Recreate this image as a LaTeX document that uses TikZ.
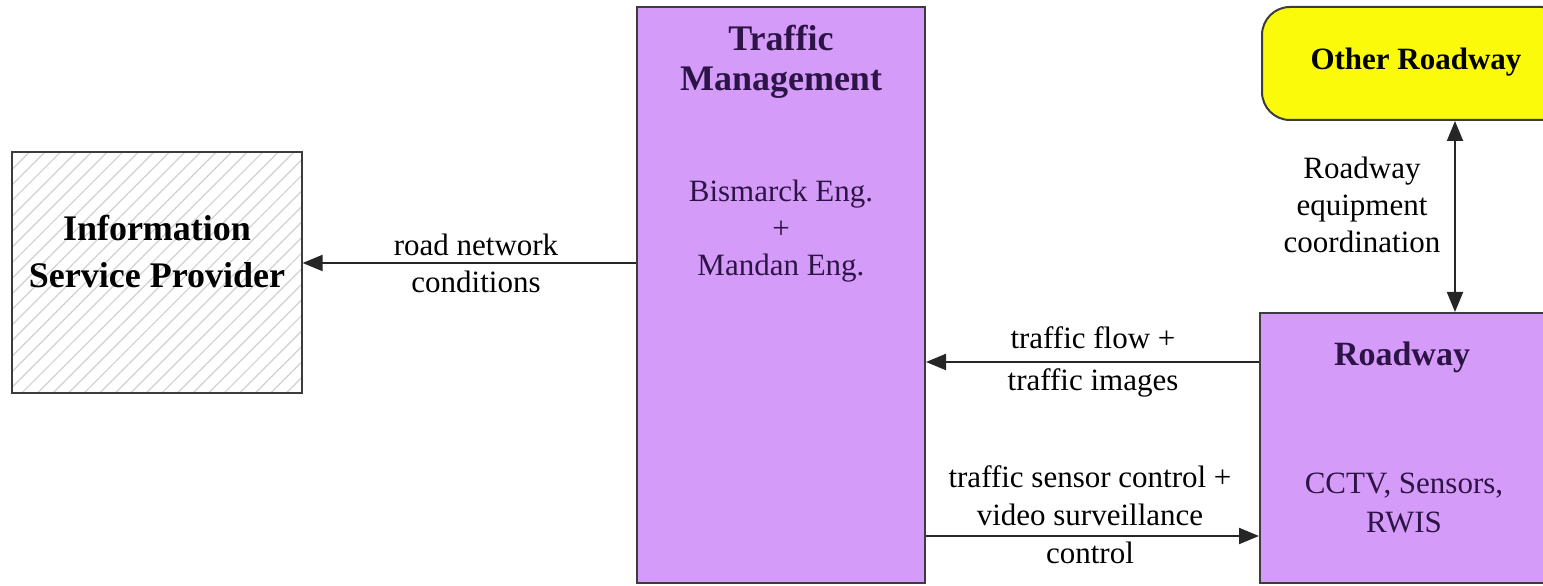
\documentclass[tikz,border=0pt]{standalone}
\usepackage{fontspec}
\setmainfont{Liberation Serif}
\usetikzlibrary{arrows.meta,patterns.meta}

\definecolor{mgmtpurple}{RGB}{213,155,248}
\definecolor{otheryellow}{RGB}{250,250,10}
\definecolor{boxline}{RGB}{60,60,60}
\definecolor{purpletext}{RGB}{45,20,70}

\tikzset{
  box/.style={draw=boxline, line width=2pt, inner sep=0pt},
  title/.style={font=\fontsize{36}{42}\selectfont\bfseries, align=center, inner sep=0pt},
  body/.style={font=\fontsize{31}{37}\selectfont, align=center, inner sep=0pt},
  arr/.style={line width=2pt, draw=black!85, -{Triangle[length=20pt,width=16pt]}},
  darr/.style={line width=2pt, draw=black!85, {Triangle[length=20pt,width=16pt]}-{Triangle[length=20pt,width=16pt]}}
}

\begin{document}
\begin{tikzpicture}[x=1pt,y=1pt]
  \useasboundingbox (0,0) rectangle (1543,586);
  \begin{scope}
    \clip (0,0) rectangle (1543,586);
    % boxes
    \node[box, fill=mgmtpurple, minimum width=288pt, minimum height=576pt] (tm) at (781,291) {};
    \node[box, preaction={fill=white}, pattern={Lines[angle=45,distance=11pt,line width=1.2pt]}, pattern color=black!18,
          minimum width=290pt, minimum height=241pt] (isp) at (157,313.5) {};
    \node[box, fill=otheryellow, rounded corners=28pt, minimum width=308pt, minimum height=113pt] (orw) at (1416,522.5) {};
    \node[box, fill=mgmtpurple, minimum width=285pt, minimum height=270pt] (rw) at (1402.5,138) {};

    % texts in boxes
    \node[title, text=purpletext, font=\fontsize{36}{40}\selectfont\bfseries] (tmtitle) at (781,524) {Traffic\\Management};
    \node[body, text=purpletext] (tmbody) at (781,355) {Bismarck Eng.\\+\\Mandan Eng.};
    \node[title, font=\fontsize{36}{47}\selectfont\bfseries] (isptext) at (157,334.5) {Information\\Service Provider};
    \node[title, font=\fontsize{31}{36}\selectfont\bfseries] (orwtext) at (1416,524) {Other Roadway};
    \node[title, text=purpletext, font=\fontsize{34}{40}\selectfont\bfseries] (rwtitle) at (1402,229) {Roadway};
    \node[body, text=purpletext, font=\fontsize{31}{39}\selectfont] (rwbody) at (1404,83.5) {CCTV, Sensors,\\RWIS};

    % flow labels
    \node[body] (rnlabel) at (476,323) {road network\\conditions};
    \node[body, font=\fontsize{31}{42}\selectfont] (tflabel) at (1093,224) {traffic flow +\\traffic images};
    \node[body, font=\fontsize{31}{38}\selectfont] (sclabel) at (1090,71) {traffic sensor control +\\video surveillance\\control};
    \node[body, font=\fontsize{31}{37}\selectfont] (rclabel) at (1362,381) {Roadway\\equipment\\coordination};
    \coordinate (rcx) at (1455,0);
    \coordinate (scy) at (0,50);

    % connectors
    \draw[arr] (tm.west |- rnlabel) -- (isp.east |- rnlabel);
    \draw[arr] (rw.west |- tflabel) -- (tm.east |- tflabel);
    \draw[arr] (tm.east |- scy) -- (rw.west |- scy);
    \draw[darr] (orw.south -| rcx) -- (rw.north -| rcx);
  \end{scope}
\end{tikzpicture}
\end{document}
